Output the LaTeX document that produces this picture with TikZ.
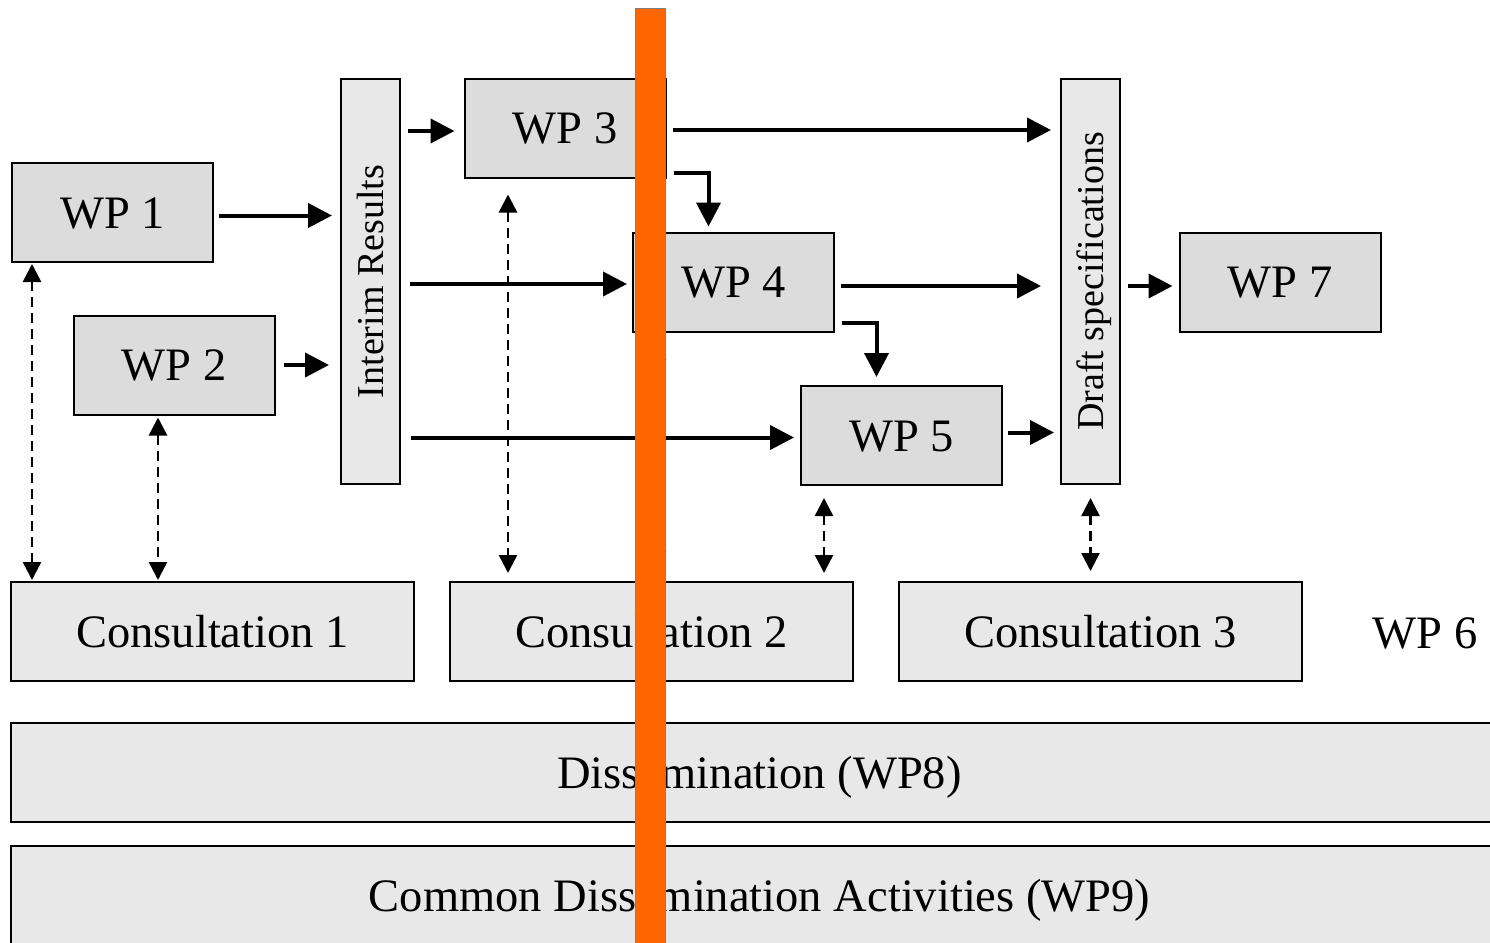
\documentclass[tikz,border=0pt]{standalone}
\usepackage{fontspec}
\setmainfont{Liberation Serif}
\usetikzlibrary{arrows.meta}
\definecolor{wpfill}{HTML}{DCDCDC}
\definecolor{boxfill}{HTML}{E8E8E8}
\definecolor{barorange}{HTML}{FF6600}

\begin{document}
\begin{tikzpicture}[x=1pt,y=-1pt]
        \tikzstyle{every node}=[font=\fontsize{46.5}{56}\selectfont,text height=31pt,text depth=0pt]

        \tikzstyle{wp}=[draw,fill=wpfill,line width=2pt,minimum width=201pt,minimum height=99pt,inner sep=0pt]
        \tikzstyle{cons}=[wp,fill=boxfill,minimum width=403pt]
        \tikzstyle{band}=[wp,fill=boxfill,minimum width=1497pt]
        \tikzstyle{upright}=[wp,fill=boxfill,rotate=90,minimum width=405pt,minimum height=59pt,font=\fontsize{38}{46}\selectfont,text height=25pt]
        \tikzstyle{flow}=[line width=4pt,-{Triangle[length=24pt,width=24pt]}]
        \tikzstyle{link}=[line width=2.5pt,dash pattern=on 10pt off 6pt,{Triangle[length=18pt,width=18pt]}-{Triangle[length=18pt,width=18pt]}]

        \useasboundingbox (0,0) rectangle (1490,942);
        \clip (0,0) rectangle (1490,942);

        % work packages
        \node [wp] (wp1) at (112.5,212.5) {WP 1};
        \node [wp] (wp2) at (174,365) {WP 2};
        \node [wp] (wp3) at (565,128) {WP 3};
        \node [wp] (wp4) at (733.5,282) {WP 4};
        \node [wp] (wp5) at (901.5,435.5) {WP 5};
        \node [wp] (wp7) at (1280,282) {WP 7};

        \node [upright] (interim) at (370.5,281.5) {Interim Results};
        \node [upright] (draft) at (1090.5,281.5) {Draft specifications};

        % consultation row
        \node [cons] (cons1) at (212.5,631.5) {Consultation 1};
        \node [cons] (cons2) at (651.5,631.5) {Consultation 2};
        \node [cons] (cons3) at (1100.5,631.5) {Consultation 3};
        \node (wp6) at (1425,633) {WP 6};

        \node [band] (wp8) at (759.5,772.5) {Dissemination (WP8)};
        \node [band] (wp9) at (759.5,895.5) {Common Dissemination Activities (WP9)};

        % main flow
        \draw [flow,shorten <=5pt,shorten >=8pt] ([yshift=-3pt]wp1.east) -- ([yshift=-3pt]wp1.east -| interim.north);
        \draw [flow,shorten <=8pt,shorten >=11pt] (wp2.east) -- (wp2.east -| interim.north);
        \draw [flow,shorten <=7pt,shorten >=9pt] ([yshift=-3pt]wp3.west -| interim.south) -- ([yshift=-3pt]wp3.west);
        \draw [flow,shorten <=9pt,shorten >=5pt] ([yshift=-2pt]wp4.west -| interim.south) -- ([yshift=-2pt]wp4.west);
        \draw [flow,shorten <=10pt,shorten >=6pt] ([yshift=-2pt]wp5.west -| interim.south) -- ([yshift=-2pt]wp5.west);
        \draw [flow,shorten <=6pt,shorten >=9pt] ([yshift=-2pt]wp3.east) -- ([yshift=-2pt]wp3.east -| draft.north);
        \draw [flow,shorten <=6pt,shorten >=19pt] ([yshift=-4pt]wp4.east) -- ([yshift=-4pt]wp4.east -| draft.north);
        \draw [flow,shorten <=5pt,shorten >=6pt] ([yshift=3pt]wp5.east) -- ([yshift=3pt]wp5.east -| draft.north);
        \draw [flow,shorten <=7pt,shorten >=6pt] ([yshift=-4pt]wp7.west -| draft.south) -- ([yshift=-4pt]wp7.west);

        % elbows
        \draw [flow,shorten >=5pt] ([shift={(7pt,6pt)}]wp3.south east) -| ([xshift=-25pt]wp4.north);
        \draw [flow,shorten >=8pt] ([shift={(7pt,10pt)}]wp4.south east) -| ([xshift=-25pt]wp5.north);

        % consultation links
        \draw [link,shorten <=1pt,shorten >=1pt] ([xshift=21pt]wp1.south west) -- ([xshift=21pt]wp1.south west |- cons1.north);
        \draw [link,shorten <=2pt,shorten >=1pt] ([xshift=-16pt]wp2.south) -- ([xshift=-16pt]wp2.south |- cons1.north);
        \draw [link,shorten <=16pt,shorten >=8pt] ([xshift=-57pt]wp3.south) -- ([xshift=-57pt]wp3.south |- cons2.north);
        \draw [link,shorten <=9pt,shorten >=12pt] ([xshift=25pt]wp4.south west) -- ([xshift=25pt]wp4.south west |- cons2.north);
        \draw [link,shorten <=12pt,shorten >=8pt] ([xshift=24pt]wp5.south west) -- ([xshift=24pt]wp5.south west |- cons2.north);
        \draw [link,shorten <=13pt,shorten >=10pt] (draft.west) -- (draft.west |- cons3.north);

        % marker over the picture
        \filldraw [fill=barorange,draw=gray,line width=0.8pt] (635,8) rectangle (665,950);
\end{tikzpicture}
\end{document}
